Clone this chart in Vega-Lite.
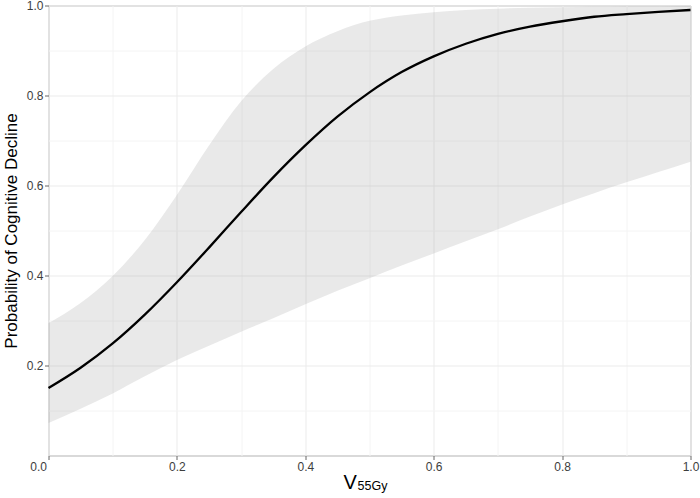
{
  "$schema": "https://vega.github.io/schema/vega-lite/v6.json",
  "width": 642,
  "height": 450,
  "autosize": {"type": "none"},
  "padding": {"left": 48.5, "top": 5.5, "right": 9.5, "bottom": 42.5},
  "background": "white",
  "config": {
    "view": {"stroke": "#b3b3b3", "strokeWidth": 1},
    "font": "Liberation Sans",
    "axis": {
      "labelFont": "Liberation Sans",
      "titleFont": "Liberation Sans",
      "labelFontSize": 12,
      "labelColor": "#3d3d3d",
      "tickColor": "#666666",
      "tickSize": 4,
      "domain": false,
      "titleFontWeight": "normal",
      "titleColor": "#000000"
    }
  },
  "data": {
    "values": [
      {"x": 0.00, "lo": 0.072, "hi": 0.294, "p": 0.150},
      {"x": 0.05, "lo": 0.104, "hi": 0.339, "p": 0.195},
      {"x": 0.10, "lo": 0.138, "hi": 0.399, "p": 0.249},
      {"x": 0.15, "lo": 0.176, "hi": 0.479, "p": 0.313},
      {"x": 0.20, "lo": 0.212, "hi": 0.579, "p": 0.385},
      {"x": 0.25, "lo": 0.244, "hi": 0.689, "p": 0.462},
      {"x": 0.30, "lo": 0.275, "hi": 0.787, "p": 0.541},
      {"x": 0.35, "lo": 0.305, "hi": 0.859, "p": 0.618},
      {"x": 0.40, "lo": 0.336, "hi": 0.909, "p": 0.689},
      {"x": 0.45, "lo": 0.366, "hi": 0.943, "p": 0.753},
      {"x": 0.50, "lo": 0.394, "hi": 0.966, "p": 0.807},
      {"x": 0.55, "lo": 0.422, "hi": 0.978, "p": 0.852},
      {"x": 0.60, "lo": 0.449, "hi": 0.985, "p": 0.887},
      {"x": 0.65, "lo": 0.476, "hi": 0.990, "p": 0.915},
      {"x": 0.70, "lo": 0.503, "hi": 0.993, "p": 0.937},
      {"x": 0.75, "lo": 0.531, "hi": 0.995, "p": 0.953},
      {"x": 0.80, "lo": 0.558, "hi": 0.996, "p": 0.965},
      {"x": 0.85, "lo": 0.583, "hi": 0.997, "p": 0.975},
      {"x": 0.90, "lo": 0.607, "hi": 0.998, "p": 0.981},
      {"x": 0.95, "lo": 0.630, "hi": 0.998, "p": 0.986},
      {"x": 1.00, "lo": 0.653, "hi": 0.999, "p": 0.990}
    ]
  },
  "resolve": {"axis": {"x": "independent"}},
  "layer": [
    {
      "mark": {"type": "area", "fill": "#8f8f8f", "opacity": 0.2, "interpolate": "monotone"},
      "encoding": {
        "x": {
          "field": "x", "type": "quantitative",
          "scale": {"domain": [0, 1], "nice": false, "zero": false},
          "axis": {
            "orient": "bottom",
            "values": [0, 0.1, 0.2, 0.3, 0.4, 0.5, 0.6, 0.7, 0.8, 0.9, 1.0],
            "labelExpr": "round(datum.value * 10) % 2 == 1 ? '' : format(datum.value, '.1f')",
            "tickOpacity": {"expr": "round(datum.value * 10) % 2 == 1 ? 0 : 1"},
            "gridColor": {"expr": "round(datum.value * 10) % 2 == 1 ? '#f4f4f4' : '#ebebeb'"},
            "grid": true,
            "labelFlush": false,
            "labelBound": false,
            "labelOverlap": false,
            "labelAlign": {"expr": "datum.value < 0.05 ? 'right' : 'center'"},
            "labelOffset": {"expr": "datum.value < 0.05 ? -2 : 0"},
            "labelPadding": 2,
            "title": "V",
            "titleFontSize": 20,
            "titleAlign": "left",
            "titleBaseline": "alphabetic",
            "titleAnchor": null,
            "titleX": 294.5,
            "titleY": 33
          }
        },
        "y": {
          "field": "lo", "type": "quantitative",
          "scale": {"domain": [0, 1], "nice": false, "zero": false},
          "axis": {
            "values": [0.1, 0.2, 0.3, 0.4, 0.5, 0.6, 0.7, 0.8, 0.9, 1.0],
            "labelExpr": "round(datum.value * 10) % 2 == 1 ? '' : format(datum.value, '.1f')",
            "tickOpacity": {"expr": "round(datum.value * 10) % 2 == 1 ? 0 : 1"},
            "gridColor": {"expr": "round(datum.value * 10) % 2 == 1 ? '#f4f4f4' : '#ebebeb'"},
            "grid": true,
            "labelFlush": false,
            "labelPadding": 1.5,
            "title": "Probability of Cognitive Decline",
            "titleFontSize": 17,
            "titleAngle": -90,
            "titleAlign": "center",
            "titleBaseline": "alphabetic",
            "titleAnchor": null,
            "titleX": -32.5,
            "titleY": 225
          }
        },
        "y2": {"field": "hi"}
      }
    },
    {
      "mark": {"type": "line", "color": "#000000", "strokeWidth": 2.3, "interpolate": "monotone"},
      "encoding": {
        "x": {"field": "x", "type": "quantitative", "axis": null},
        "y": {"field": "p", "type": "quantitative"}
      }
    },
    {
      "mark": {"type": "rule", "opacity": 0},
      "encoding": {
        "x": {
          "field": "x", "type": "quantitative",
          "axis": {
            "orient": "bottom",
            "labels": false,
            "ticks": false,
            "domain": false,
            "grid": false,
            "title": "55Gy",
            "titleFontSize": 12.5,
            "titleAlign": "left",
            "titleBaseline": "alphabetic",
            "titleAnchor": null,
            "titleX": 308.5,
            "titleY": 34
          }
        }
      }
    }
  ]
}
